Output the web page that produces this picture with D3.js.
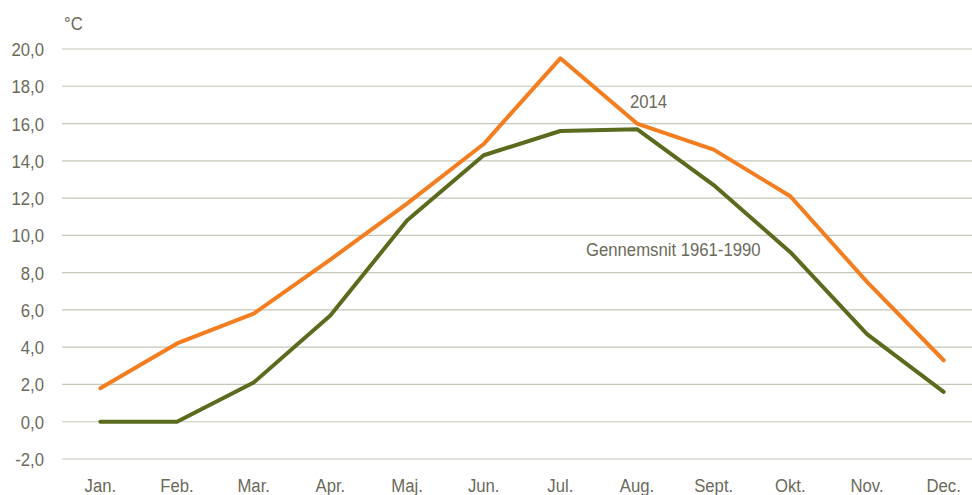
<!DOCTYPE html>
<html><head><meta charset="utf-8">
<script src="https://cdn.jsdelivr.net/npm/d3@7"></script>
<style>
body{margin:0;background:#fff;}
text{font-family:"Liberation Sans Narrow","Arial Narrow","Liberation Sans",sans-serif;fill:#6b6a5c;}
</style></head><body>
<svg id="c" width="972" height="495"></svg>
<script>
const months = ["Jan.","Feb.","Mar.","Apr.","Maj.","Jun.","Jul.","Aug.","Sept.","Okt.","Nov.","Dec."];
const temp2014 = [1.8,4.2,5.8,8.7,11.7,14.9,19.5,16.0,14.6,12.1,7.5,3.3];
const tempNormal = [0.0,0.0,2.1,5.7,10.8,14.3,15.6,15.7,12.7,9.1,4.7,1.6];
const yTicks = [-2,0,2,4,6,8,10,12,14,16,18,20];

(function(){
const svg = d3.select("#c");
const mLeft = 62, mRight = 982, mTop = 49, mBottom = 459;
const x = d3.scalePoint().domain(months).range([mLeft, mRight]).padding(0.5);
const y = d3.scaleLinear().domain([-2, 20]).range([mBottom, mTop]);
const SX = 0.88, FS = 19;

const fmt = v => d3.format(".1f")(v).replace(".", ",").replace("−","-");

function label(g, tx, ty, anchor, txt){
  return g.append("text").attr("transform", `translate(${tx},${ty}) scale(${SX},1)`)
    .attr("text-anchor", anchor).attr("font-size", FS).text(txt);
}

svg.append("g").selectAll("line").data(yTicks).join("line")
  .attr("x1", mLeft).attr("x2", 972)
  .attr("y1", d => y(d)).attr("y2", d => y(d))
  .attr("stroke", "#c6c6b9").attr("stroke-width", 1.2);

const gy = svg.append("g");
yTicks.forEach(d => label(gy, 44, y(d) + 7, "end", fmt(d)));

const gx = svg.append("g");
months.forEach(m => label(gx, x(m), 492, "middle", m));

label(svg, 64, 30, "start", "°C");

const line = d3.line().x((d, i) => x(months[i])).y(d => y(d));
svg.append("path").datum(tempNormal).attr("d", line)
  .attr("fill", "none").attr("stroke", "#5b6b1e").attr("stroke-width", 4).attr("stroke-linejoin","round").attr("stroke-linecap","round");
svg.append("path").datum(temp2014).attr("d", line)
  .attr("fill", "none").attr("stroke", "#f47d20").attr("stroke-width", 4).attr("stroke-linejoin","round").attr("stroke-linecap","round");

label(svg, 630, 108, "start", "2014");
label(svg, 586, 256, "start", "Gennemsnit 1961-1990");
})();
</script></body></html>
